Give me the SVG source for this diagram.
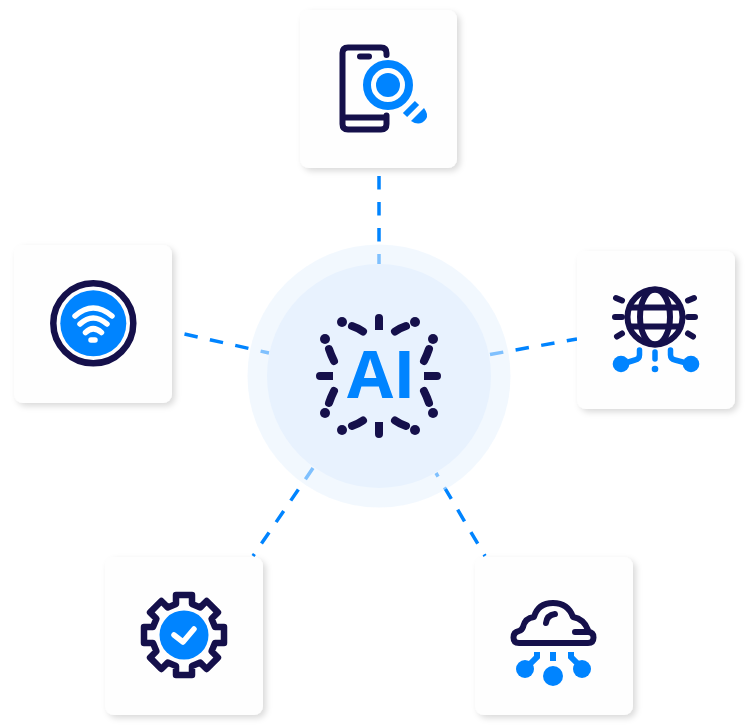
<svg xmlns="http://www.w3.org/2000/svg" width="750" height="728" viewBox="0 0 750 728">
<defs>
<filter id="sh" x="-15%" y="-15%" width="130%" height="130%"><feDropShadow dx="3" dy="3" stdDeviation="3" flood-color="#000" flood-opacity="0.15"/></filter>
</defs>
<style>
.card{fill:#fefefe;filter:url(#sh)}
.navy{fill:none;stroke:#15104b;stroke-width:6;stroke-linecap:round;stroke-linejoin:round}
.blue{fill:none;stroke:#0084ff;stroke-width:5.500;stroke-linecap:round;stroke-linejoin:round}
.bf{fill:#0084ff}
.nf{fill:#15104b}
.wl{fill:none;stroke:#fff;stroke-width:5.500;stroke-linecap:round;stroke-linejoin:round}
.dash{fill:none;stroke:#0084ff;stroke-width:3.500;stroke-dasharray:13.500 12.500}
.tick{fill:none;stroke:#15104b;stroke-width:8;stroke-linecap:round}
</style>
<rect width="750" height="728" fill="#fff"/>
<g id="connectors">
<path class="dash" d="M379 176V264"/>
<path class="dash" d="M184.500 334L269 353"/>
<path class="dash" d="M490 354.500L577 339"/>
<path class="dash" d="M313 468L253 556"/>
<path class="dash" stroke-dashoffset="9.400" d="M436 473L485 556"/>
</g>
<g id="hub">
<circle cx="379" cy="376" r="131.500" fill="#e8f2fe" fill-opacity="0.55"/>
<circle cx="379" cy="376" r="112" fill="#e8f2fe"/>
<g id="hub-rays">
<path class="nf" d="M375 330V318a4 4 0 0 1 8 0V330ZM375 422V434a4 4 0 0 0 8 0V422ZM333 372H320a4 4 0 0 0 0 8H333ZM424 372H437a4 4 0 0 1 0 8H424Z"/>
<path class="tick" d="M352 326Q358 328 363 331.500M406 326Q400 328 395 331.500M352 426Q358 424 363 420.500M406 426Q400 424 395 420.500M329 349Q331 355 334 361M429 349Q427 355 424 361M329 403Q331 397 334 391M429 403Q427 397 424 391"/>
<circle class="nf" cx="342" cy="322" r="5"/><circle class="nf" cx="415" cy="322" r="5"/><circle class="nf" cx="342" cy="430" r="5"/><circle class="nf" cx="415" cy="430" r="5"/>
<circle class="nf" cx="325" cy="339" r="5"/><circle class="nf" cx="433" cy="339" r="5"/><circle class="nf" cx="325" cy="413" r="5"/><circle class="nf" cx="433" cy="413" r="5"/>
</g>
<text x="347" y="398" font-family="'Open Sans','Liberation Sans',Arial,sans-serif" font-weight="700" font-size="67" fill="#0084ff">AI</text>
</g>
<g id="node-search">
<rect class="card" x="300" y="10" width="157" height="158" rx="9"/>
<path class="navy" d="M386.500 55V53Q386.500 47.500 381 47.500H348Q342.500 47.500 342.500 53V124Q342.500 129.500 348 129.500H381Q386.500 129.500 386.500 124V115.500M344 117.500H385"/>
<path d="M360 56.500H369" fill="none" stroke="#15104b" stroke-width="6" stroke-linecap="round"/>
<circle cx="388" cy="85" r="21" fill="none" stroke="#0084ff" stroke-width="8"/>
<circle class="bf" cx="388" cy="85" r="12"/>
<path d="M405 115L417 103" fill="none" stroke="#0084ff" stroke-width="6"/>
<path class="bf" d="M411 121L424 108Q429 115 426 119Q420 127 411 121Z"/>
</g>
<g id="node-wifi">
<rect class="card" x="14" y="245" width="158" height="158" rx="9"/>
<circle cx="93.300" cy="323.300" r="40" fill="none" stroke="#15104b" stroke-width="6.500"/>
<circle class="bf" cx="93.300" cy="323.300" r="33"/>
<path class="wl" d="M75 316Q93 300 112 316M80 324Q93 312 107 324M85.500 332.500Q93 325 101.500 332.500M91 340H95"/>
</g>
<g id="node-globe">
<rect class="card" x="577" y="251" width="158" height="158" rx="9"/>
<circle cx="655" cy="317" r="27.500" class="navy"/>
<ellipse cx="655" cy="317" rx="15" ry="27.500" class="navy"/>
<path class="navy" d="M631 307.500H679M631 326.500H679"/>
<path class="navy" d="M616 298L622 300.500M615 317H622M617 336.500L622 333.500M694 298L688 300.500M695 317H688M693 336.500L688 333.500"/>
<circle class="bf" cx="621" cy="364" r="8.300"/><circle class="bf" cx="691" cy="364" r="8.300"/><circle class="bf" cx="655" cy="369" r="3.300"/>
<path class="blue" d="M639.500 350V355Q639.500 359 635 360L622 364M670.500 350V355Q670.500 359 675 360L690 364M655 352V359"/>
</g>
<g id="node-gear">
<rect class="card" x="105" y="557" width="158" height="158" rx="9"/>
<path class="navy" transform="translate(184 635)" style="stroke-width:6.500" d="M-8 -31L-8 -40L8 -40L8 -31L16.260 -27.580L22.630 -33.940L33.940 -22.630L27.580 -16.260L31 -8L40 -8L40 8L31 8L27.580 16.260L33.940 22.630L22.630 33.940L16.260 27.580L8 31L8 40L-8 40L-8 31L-16.260 27.580L-22.630 33.940L-33.940 22.630L-27.580 16.260L-31 8L-40 8L-40 -8L-31 -8L-27.580 -16.260L-33.940 -22.630L-22.630 -33.940L-16.260 -27.580Z"/>
<circle class="bf" cx="184" cy="635" r="24.500"/>
<path class="wl" d="M174 635L183 642L194 629"/>
</g>
<g id="node-cloud">
<rect class="card" x="475" y="557" width="158" height="158" rx="9"/>
<path class="navy" d="M575 632H588Q593.500 632 593.500 637.500Q593.500 643 588 643H519Q513.500 643 513.500 637.500Q513.500 632 519 631Q522 630 523 627Q525 618 534 617Q538 603 553 603Q568 603 573 617Q584 619 588 630"/>
<path class="navy" d="M546 623Q547 615 555 614"/>
<circle class="bf" cx="553" cy="676" r="10"/><circle class="bf" cx="525" cy="669" r="9"/><circle class="bf" cx="582" cy="669" r="9"/>
<path d="M553 652V661M537 652V657L526 668M571 652V657L582 668" fill="none" stroke="#0084ff" stroke-width="6"/>
</g>
</svg>
